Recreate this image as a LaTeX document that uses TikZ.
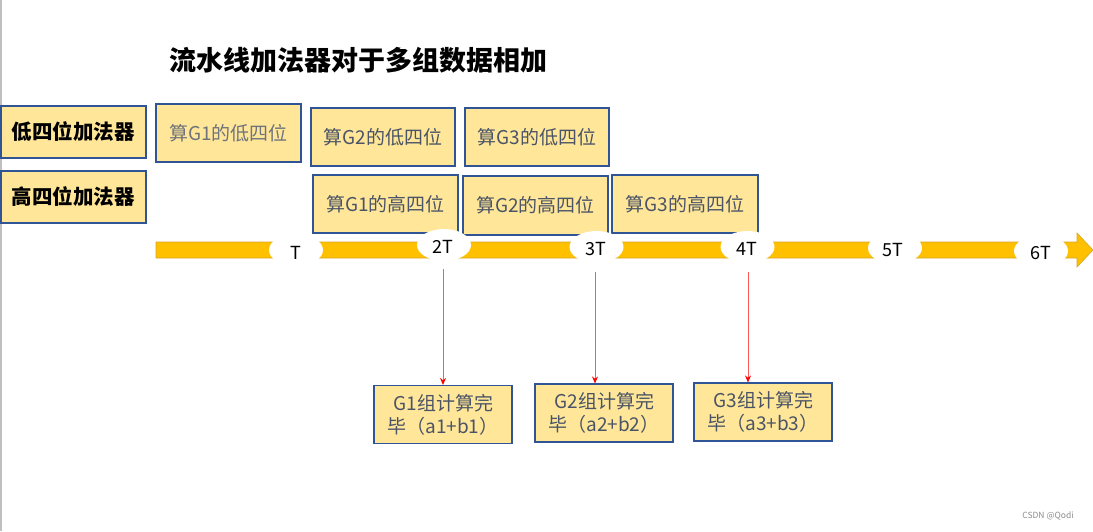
\documentclass[tikz,border=0pt]{standalone}
\usepackage{fontspec}
\setmainfont{Noto Sans CJK SC}
\usetikzlibrary{shapes.geometric,arrows.meta}
\definecolor{boxfill}{HTML}{FFE699}
\definecolor{boxline}{HTML}{2F5597}
\definecolor{boxtext}{HTML}{4A5466}
\definecolor{lighttext}{HTML}{6E737C}
\definecolor{bandfill}{HTML}{FFC000}
\definecolor{bandline}{HTML}{D4A62A}
\definecolor{redline}{HTML}{FF5A5A}
\begin{document}
\begin{tikzpicture}[x=1pt,y=-1pt,
  box/.style={draw=boxline,fill=boxfill,line width=1.1pt,inner sep=0pt},
  unitbox/.style={box,minimum width=145pt,minimum height=52pt,font=\fontsize{20.5}{24}\selectfont\bfseries,text=black},
  workbox/.style={box,minimum width=145pt,minimum height=58pt,font=\fontsize{19}{23}\selectfont,text=boxtext},
  resbox/.style={box,minimum width=138pt,minimum height=58pt,font=\fontsize{19}{23}\selectfont,text=boxtext,align=left},
  tick/.style={ellipse,fill=white,minimum width=54pt,minimum height=32pt,inner sep=0pt},
  ticklabel/.style={font=\fontsize{18}{20}\selectfont,text=black},
  done/.style={draw=redline,line width=0.9pt,-{Stealth[length=7pt,width=6pt,color=red]}}
]
\useasboundingbox (0,0) rectangle (1093,531);
\draw[draw=black!25,line width=1.5pt] (0.75,0) -- (0.75,531);

\node[font=\fontsize{27}{30}\selectfont\bfseries] (title) at (358,60) {流水线加法器对于多组数据相加};

% time band
\filldraw[fill=bandfill,draw=bandline,line width=0.6pt]
  (156,242) -- (1077,242) -- (1077,233) -- (1093,250) -- (1077,267) -- (1077,258) -- (156,258) -- cycle;

% unit boxes
\node[unitbox] (L1) at (73.5,132) {低四位加法器};
\node[unitbox] (L2) at (73.5,197) {高四位加法器};

% work boxes
\node[workbox,text=lighttext] (a1) at (228.5,133) {算G1的低四位};
\node[workbox,minimum width=144pt] (a2) at (383,137) {算G2的低四位};
\node[workbox,minimum width=144pt] (a3) at (537,137) {算G3的低四位};
\node[workbox] (b1) at (385.5,204) {算G1的高四位};
\node[workbox,minimum height=59pt] (b2) at (535.5,205.5) {算G2的高四位};
\node[workbox,minimum width=146pt] (b3) at (685,204) {算G3的高四位};

% ticks
\node[tick] (t1) at (296,250) {};
\node[tick] (t2) at (444,245) {};
\node[tick] (t3) at (596.5,247) {};
\node[tick] (t4) at (747.5,247) {};
\node[tick] (t5) at (895,248) {};
\node[tick] (t6) at (1041,251) {};
\node[ticklabel] (l1) at (296,253) {T};
\node[ticklabel] (l2) at (443,247) {2T};
\node[ticklabel] (l3) at (596,249) {3T};
\node[ticklabel] (l4) at (747,249) {4T};
\node[ticklabel] (l5) at (893,250) {5T};
\node[ticklabel] (l6) at (1041,253) {6T};

% result boxes
\node[resbox] (r1) at (443,414.5) {\hspace*{6pt}G1组计算完\\毕（a1+b1）};
\node[resbox] (r2) at (604,413) {\hspace*{6pt}G2组计算完\\毕（a2+b2）};
\node[resbox] (r3) at (763,412) {\hspace*{6pt}G3组计算完\\毕（a3+b3）};

% completion arrows
\coordinate (s1) at (443,269);
\coordinate (s2) at (595,272);
\coordinate (s3) at (748,272);
\draw[done] (s1) -- (s1 |- r1.north);
\draw[done] (s2) -- (s2 |- r2.north);
\draw[done] (s3) -- (s3 |- r3.north);

\node[font=\fontsize{8.5}{10}\selectfont,text=black!45] (wm) at (1048,516) {CSDN @Qodi};
\end{tikzpicture}
\end{document}
